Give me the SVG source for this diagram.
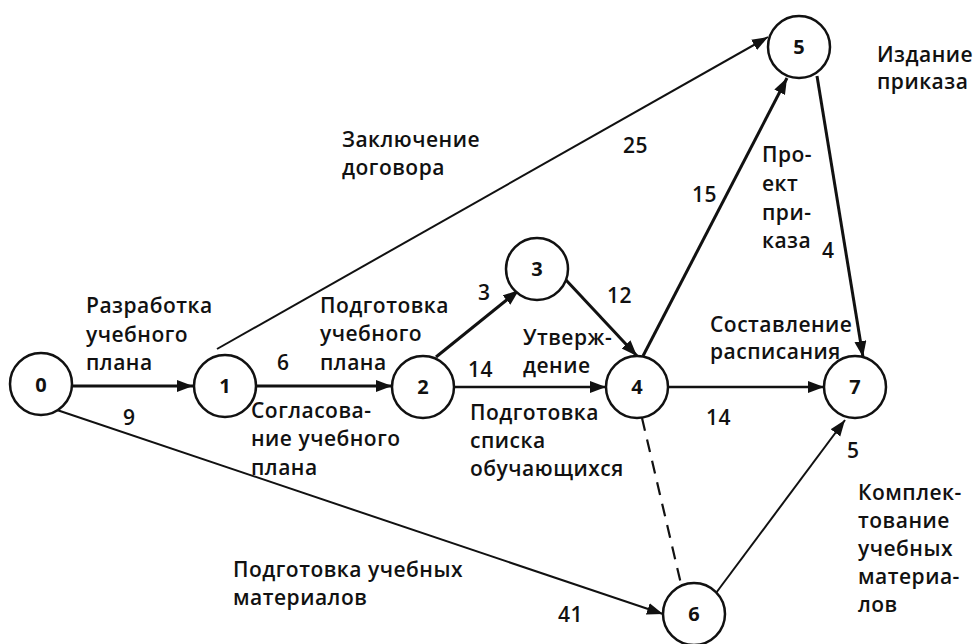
<svg xmlns="http://www.w3.org/2000/svg" width="976" height="644" viewBox="0 0 976 644">
<defs>
<marker id="ah" markerUnits="userSpaceOnUse" markerWidth="18" markerHeight="14" refX="16" refY="6" orient="auto">
<path d="M0,0 L16,6 L0,12 Z" fill="#111"/>
</marker>
<style>
.bg{fill:#fff}
.n{fill:#fff;stroke:#111;stroke-width:2.5}
.nt{font-family:"Open Sans","Liberation Sans",sans-serif;font-weight:700;font-size:20px;fill:#111;text-anchor:middle}
.t{font-family:"Open Sans","Liberation Sans",sans-serif;font-weight:600;font-size:21px;letter-spacing:0.5px;fill:#111}
.e{fill:none;stroke:#111;marker-end:url(#ah)}
.thick{stroke-width:3}
.mid{stroke-width:2.5}
.thin{stroke-width:2}
.dash{fill:none;stroke:#111;stroke-width:2.2;stroke-dasharray:13 9}
</style>
</defs>
<rect class="bg" x="0" y="0" width="976" height="644"/>
<g id="connectors">
<line class="e thick" x1="72" y1="386" x2="193" y2="386"/>
<line class="e thick" x1="257" y1="386" x2="392" y2="386"/>
<line class="e thick" x1="436" y1="357" x2="519" y2="290"/>
<line class="e mid" x1="454" y1="387" x2="606" y2="387"/>
<line class="e thick" x1="566" y1="280" x2="637" y2="356"/>
<line class="e thick" x1="643" y1="356" x2="787" y2="78"/>
<line class="e mid" x1="668" y1="387" x2="824" y2="387"/>
<line class="e thick" x1="817" y1="76" x2="863" y2="357"/>
<line class="e thin" x1="217" y1="349" x2="768" y2="37"/>
<line class="e thin" x1="57" y1="410" x2="663" y2="614"/>
<line class="e thin" x1="716" y1="593" x2="845" y2="420"/>
<line class="dash" x1="642" y1="418" x2="681" y2="584"/>
</g>
<g id="node0"><circle class="n" cx="41" cy="384" r="31"/><text class="nt" x="41" y="392">0</text></g>
<g id="node1"><circle class="n" cx="225" cy="386" r="31"/><text class="nt" x="225" y="393">1</text></g>
<g id="node2"><circle class="n" cx="423" cy="387" r="31"/><text class="nt" x="423" y="394">2</text></g>
<g id="node3"><circle class="n" cx="537" cy="269" r="31"/><text class="nt" x="537" y="276">3</text></g>
<g id="node4"><circle class="n" cx="637" cy="387" r="31"/><text class="nt" x="637" y="394">4</text></g>
<g id="node5"><circle class="n" cx="799" cy="47" r="31"/><text class="nt" x="799" y="54">5</text></g>
<g id="node6"><circle class="n" cx="694" cy="614" r="31"/><text class="nt" x="694" y="621">6</text></g>
<g id="node7"><circle class="n" cx="855" cy="387" r="31"/><text class="nt" x="855" y="394">7</text></g>
<g id="labels">
<text class="t" x="86" y="313">Разработка</text>
<text class="t" x="86" y="342">учебного</text>
<text class="t" x="86" y="370">плана</text>
<text class="t" x="277" y="370">6</text>
<text class="t" x="123" y="425">9</text>
<text class="t" x="320" y="313">Подготовка</text>
<text class="t" x="320" y="341">учебного</text>
<text class="t" x="320" y="370">плана</text>
<text class="t" x="251" y="418">Согласова-</text>
<text class="t" x="251" y="446">ние учебного</text>
<text class="t" x="251" y="475">плана</text>
<text class="t" x="478" y="300">3</text>
<text class="t" x="607" y="303">12</text>
<text class="t" x="468" y="377">14</text>
<text class="t" x="523" y="345">Утверж-</text>
<text class="t" x="523" y="373">дение</text>
<text class="t" x="470" y="420">Подготовка</text>
<text class="t" x="470" y="448">списка</text>
<text class="t" x="470" y="476">обучающихся</text>
<text class="t" x="342" y="147">Заключение</text>
<text class="t" x="342" y="175">договора</text>
<text class="t" x="623" y="153">25</text>
<text class="t" x="692" y="202">15</text>
<text class="t" x="762" y="162">Про-</text>
<text class="t" x="762" y="191">ект</text>
<text class="t" x="762" y="220">при-</text>
<text class="t" x="762" y="248">каза</text>
<text class="t" x="822" y="258">4</text>
<text class="t" x="877" y="62">Издание</text>
<text class="t" x="877" y="89">приказа</text>
<text class="t" x="710" y="332">Составление</text>
<text class="t" x="710" y="359">расписания</text>
<text class="t" x="706" y="425">14</text>
<text class="t" x="847" y="458">5</text>
<text class="t" x="858" y="500">Комплек-</text>
<text class="t" x="858" y="528">тование</text>
<text class="t" x="858" y="556">учебных</text>
<text class="t" x="858" y="584">материа-</text>
<text class="t" x="858" y="612">лов</text>
<text class="t" x="233" y="577">Подготовка учебных</text>
<text class="t" x="233" y="605">материалов</text>
<text class="t" x="558" y="622">41</text>
</g>
</svg>
